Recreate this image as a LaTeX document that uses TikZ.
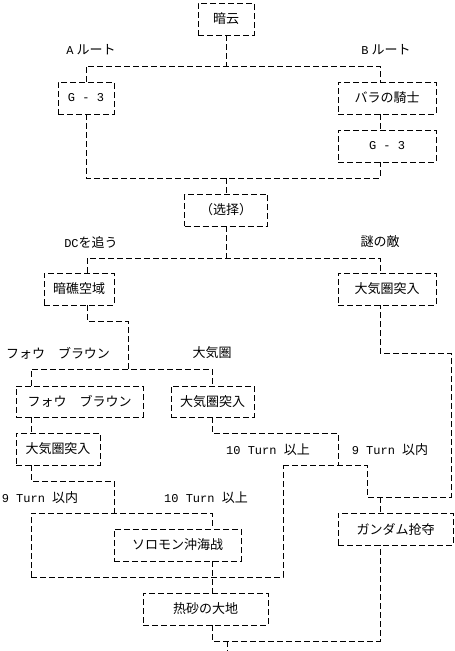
\documentclass[tikz,border=0pt]{standalone}
\usepackage{fontspec}
\setmainfont{Noto Sans CJK JP}
\newfontfamily\monofnt{Liberation Mono}
\newcommand\mtx[1]{{\monofnt\fontsize{12pt}{12pt}\selectfont #1}}
\begin{document}
\begin{tikzpicture}[x=1pt,y=-1pt,
  dl/.style={dash pattern=on 6pt off 3pt, line width=0.8pt},
  box/.style={draw, dl, minimum height=32pt, inner sep=0pt, font=\fontsize{13pt}{13pt}\selectfont},
  lbl/.style={inner sep=0pt, font=\fontsize{13pt}{13pt}\selectfont}]
\useasboundingbox[fill=white] (0,0) rectangle (455,651);
% boxes
\node[box, minimum width=56pt] (yun) at (226,19) {暗云};
\node[box, minimum width=56pt] (g3a) at (86,98) {\mtx{G - 3}};
\node[box, minimum width=98pt] (bara) at (387,98) {バラの騎士};
\node[box, minimum width=98pt] (g3b) at (387,146) {\mtx{G - 3}};
\node[box, minimum width=83pt] (sentaku) at (226,210) {（选择）};
\node[box, minimum width=70pt] (anshou) at (79,289) {暗礁空域};
\node[box, minimum width=98pt] (taiki1) at (387,289) {大気圏突入};
\node[box, minimum width=127pt, minimum height=31pt] (fou) at (79.5,401.5) {フォウ　ブラウン};
\node[box, minimum width=83pt, minimum height=31pt] (taiki2) at (212.5,401.5) {大気圏突入};
\node[box, minimum width=84pt] (taiki3) at (58,449) {大気圏突入};
\node[box, minimum width=127pt] (solomon) at (177.5,545) {ソロモン沖海战};
\node[box, minimum width=125pt] (nessa) at (205.5,609) {热砂の大地};
\node[box, minimum width=115pt] (gundam) at (395.5,529) {ガンダム抢夺};
% labels
\node[lbl] (la) at (91,50) {\mtx{A} ルート};
\node[lbl] (lb) at (386,50) {\mtx{B} ルート};
\node[lbl] (ldc) at (91,242) {\mtx{DC}を追う};
\node[lbl] (lnazo) at (380,242) {謎の敵};
\node[lbl] (lfou) at (58,353) {フォウ　ブラウン};
\node[lbl] (ltaiki) at (212,353) {大気圏};
\node[lbl] (l9a) at (40,498) {\mtx{9 Turn }以内};
\node[lbl] (l10a) at (206,498) {\mtx{10 Turn }以上};
\node[lbl] (l10b) at (268,450) {\mtx{10 Turn }以上};
\node[lbl] (l9b) at (390,450) {\mtx{9 Turn }以内};
% junction coordinates
\coordinate (jA) at (86,66); \coordinate (jB) at (380,66);
\coordinate (jC) at (86,178); \coordinate (jD) at (380,178);
\coordinate (jE) at (87,258); \coordinate (jF) at (380,258);
\coordinate (k1) at (87,321); \coordinate (k2) at (128,321); \coordinate (k3) at (128,369);
\coordinate (k4) at (31,369); \coordinate (k5) at (212,369);
\coordinate (m1) at (31,481); \coordinate (m2) at (114,481); \coordinate (m3) at (114,513);
\coordinate (m4) at (31,513); \coordinate (m5) at (212,513); \coordinate (m6) at (31,577);
\coordinate (m7) at (283,577); \coordinate (m8) at (283,465);
\coordinate (n1) at (212,433); \coordinate (n2) at (338,433); \coordinate (n3) at (338,465);
\coordinate (n4) at (367,465); \coordinate (n5) at (367,497); \coordinate (n6) at (451,497);
\coordinate (n7) at (451,353); \coordinate (n8) at (380,353); \coordinate (n9) at (380,497);
\coordinate (p1) at (212,641); \coordinate (p2) at (380,641);
\coordinate (p3) at (227,641); \coordinate (p4) at (227,651);
% connectors
\draw[dl] (yun.south -| 226,0) -- (jA -| yun.south);
\draw[dl] (jA |- g3a.north) -- (jA) -- (jB) -- (jB |- bara.north);
\draw[dl] (jB |- bara.south) -- (jB |- g3b.north);
\draw[dl] (jC |- g3a.south) -- (jC) -- (jD) -- (jD |- g3b.south);
\draw[dl] (jC -| yun.south) -- (sentaku.north -| yun.south);
\draw[dl] (sentaku.south -| yun.south) -- (jE -| yun.south);
\draw[dl] (jE |- anshou.north) -- (jE) -- (jF) -- (jF |- taiki1.north);
\draw[dl] (k1 |- anshou.south) -- (k1) -- (k2) -- (k3);
\draw[dl] (k4 |- fou.north) -- (k4) -- (k5) -- (k5 |- taiki2.north);
\draw[dl] (k4 |- fou.south) -- (k4 |- taiki3.north);
\draw[dl] (m1 |- taiki3.south) -- (m1) -- (m2) -- (m3);
\draw[dl] (m6) -- (m4) -- (m5) -- (m5 |- solomon.north);
\draw[dl] (m6) -- (m7) -- (m8);
\draw[dl] (m5 |- solomon.south) -- (m5 |- nessa.north);
\draw[dl] (n1 |- taiki2.south) -- (n1) -- (n2) -- (n3);
\draw[dl] (m8) -- (n4) -- (n5) -- (n6) -- (n7) -- (n8) -- (n8 |- taiki1.south);
\draw[dl] (n9) -- (n9 |- gundam.north);
\draw[dl] (p1 |- nessa.south) -- (p1) -- (p2) -- (p2 |- gundam.south);
\draw[dl] (p3) -- (p4);
\end{tikzpicture}
\end{document}
